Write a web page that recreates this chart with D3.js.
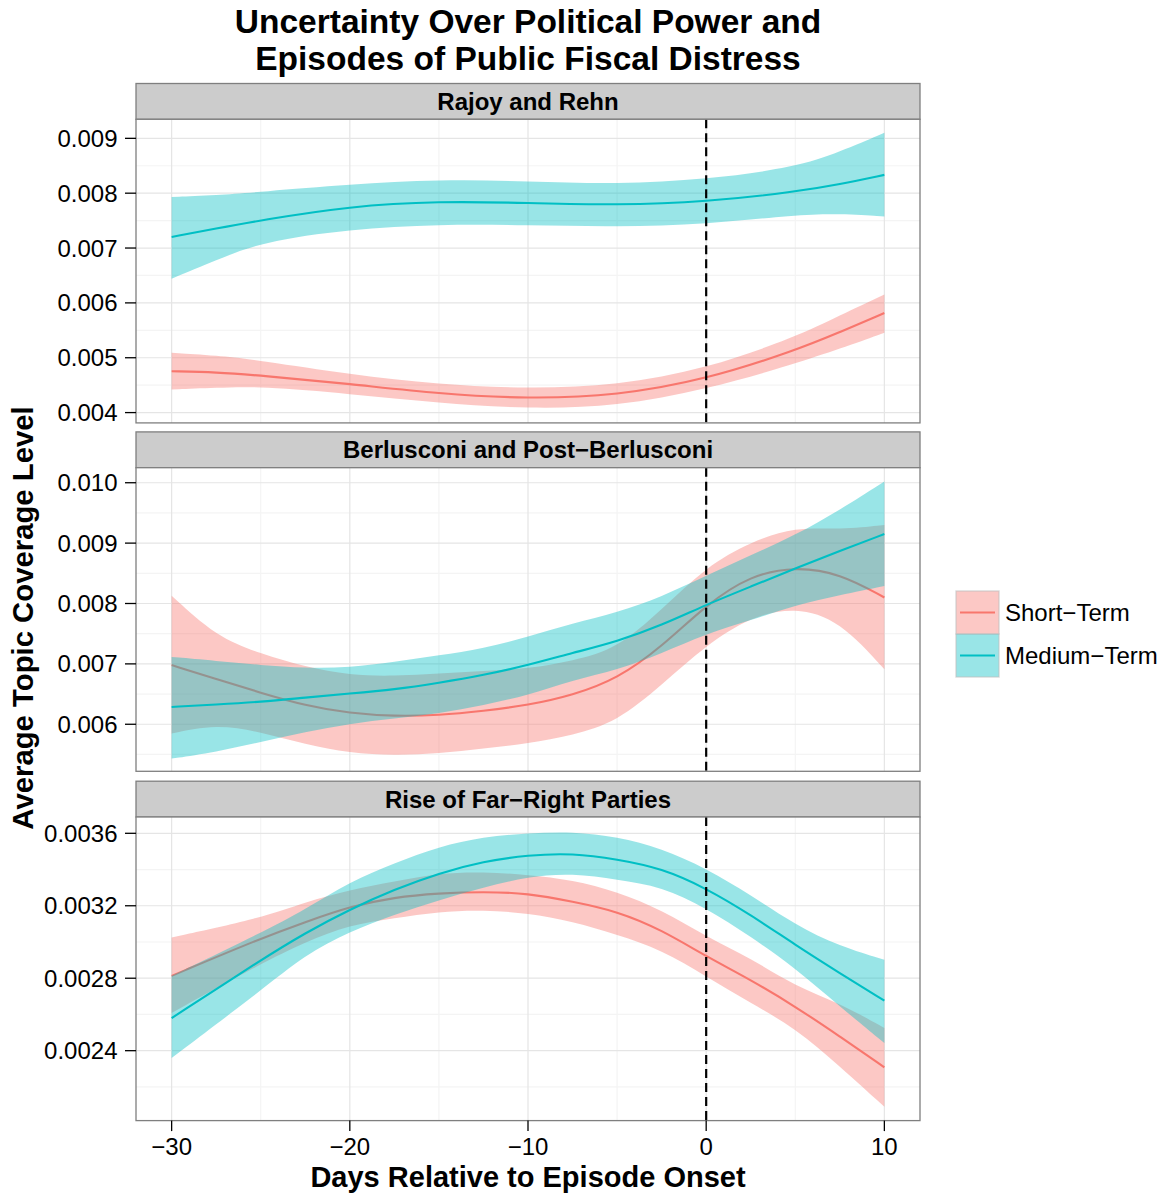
<!DOCTYPE html>
<html>
<head>
<meta charset="utf-8">
<script src="https://cdn.jsdelivr.net/npm/d3@7"></script>
<style>
html,body{margin:0;padding:0;background:#fff;}
svg{display:block;font-family:"Liberation Sans",Arial,Helvetica,sans-serif;}
</style>
</head>
<body>
<svg id="chart" width="1169" height="1197"></svg>
<script>
// ---------------- DATA ----------------
const seriesNames = ["Short\u2212Term", "Medium\u2212Term"];
const facetTitles = ["Rajoy and Rehn", "Berlusconi and Post\u2212Berlusconi", "Rise of Far\u2212Right Parties"];
const xTicks = [-30, -20, -10, 0, 10];
const xTickLabels = ["\u221230", "\u221220", "\u221210", "0", "10"];
const xMinor = [-25, -15, -5, 5];

// Panel 1: Rajoy and Rehn
const days1 = [-30, -27.5, -25, -20, -15, -10, -5, 0, 5, 7.5, 10];
const p1ShortFit = [0.004754, 0.004736, 0.004676, 0.004524, 0.004342, 0.00425, 0.00431, 0.004603, 0.005132, 0.005467, 0.005814];
const p1ShortHi  = [0.00509, 0.005041, 0.00495, 0.004694, 0.004511, 0.004433, 0.004493, 0.004798, 0.005375, 0.005772, 0.006155];
const p1ShortLo  = [0.00442, 0.004451, 0.00448, 0.004342, 0.00417, 0.004068, 0.00411, 0.00442, 0.00489, 0.005163, 0.005456];
const p1MedFit   = [0.007202, 0.007355, 0.007507, 0.007763, 0.007854, 0.007823, 0.00778, 0.007841, 0.008024, 0.008164, 0.008334];
const p1MedHi    = [0.007932, 0.007963, 0.008024, 0.008159, 0.00825, 0.008219, 0.008164, 0.00825, 0.008469, 0.008754, 0.009101];
const p1MedLo    = [0.006442, 0.006776, 0.00711, 0.007342, 0.007434, 0.007416, 0.007384, 0.007434, 0.007604, 0.007629, 0.007574];
const p1Ticks = [0.004, 0.005, 0.006, 0.007, 0.008, 0.009];
const p1TickLabels = ["0.004", "0.005", "0.006", "0.007", "0.008", "0.009"];
const p1Minor = [0.0045, 0.0055, 0.0065, 0.0075, 0.0085];
const p1Domain = [0.003812, 0.009347];

// Panel 2: Berlusconi and Post-Berlusconi
const days2 = [-30, -27.5, -25, -22.5, -20, -17.5, -15, -12.5, -10, -7.5, -5, -2.5, 0, 2.5, 5, 7.5, 10];
const p2ShortFit = [0.00698, 0.00675, 0.00652, 0.00631, 0.00618, 0.006133, 0.006149, 0.00622, 0.006315, 0.00648, 0.00675, 0.00728, 0.00798, 0.00847, 0.00861, 0.0085, 0.0081];
const p2ShortHi  = [0.00813, 0.00745, 0.00717, 0.00695, 0.00681, 0.006796, 0.00684, 0.006884, 0.00692, 0.00705, 0.00725, 0.0079, 0.00861, 0.00902, 0.00927, 0.00922, 0.0093];
const p2ShortLo  = [0.005846, 0.006, 0.005873, 0.005668, 0.005524, 0.005486, 0.005514, 0.005597, 0.00568, 0.005818, 0.00604, 0.00665, 0.00731, 0.00778, 0.007945, 0.00772, 0.00691];
const p2MedFit   = [0.006287, 0.006326, 0.00637, 0.006442, 0.006508, 0.006575, 0.006685, 0.006812, 0.006978, 0.007182, 0.00737, 0.00764, 0.00798, 0.00828, 0.00858, 0.00887, 0.00915];
const p2MedHi    = [0.007116, 0.00705, 0.00698, 0.00693, 0.00694, 0.007033, 0.00714, 0.007254, 0.00745, 0.00767, 0.00785, 0.00811, 0.00846, 0.0088, 0.00913, 0.00955, 0.01002];
const p2MedLo    = [0.005431, 0.005541, 0.005707, 0.00587, 0.006011, 0.006094, 0.006177, 0.006315, 0.006481, 0.00673, 0.0069, 0.00717, 0.0075, 0.00772, 0.00797, 0.00814, 0.00829];
const p2Ticks = [0.006, 0.007, 0.008, 0.009, 0.010];
const p2TickLabels = ["0.006", "0.007", "0.008", "0.009", "0.010"];
const p2Minor = [0.0055, 0.0065, 0.0075, 0.0085, 0.0095];
const p2Domain = [0.005221, 0.010249];

// Panel 3: Rise of Far-Right Parties
const days3 = [-30, -25, -22.5, -20, -17.5, -15, -12.5, -10, -7.5, -5, -2.5, 0, 2.5, 5, 7.5, 10];
const p3ShortFit = [0.002813, 0.00302, 0.00311, 0.003196, 0.003247, 0.003269, 0.003278, 0.003269, 0.003223, 0.00317, 0.003067, 0.00292, 0.002791, 0.002644, 0.002479, 0.002308];
const p3ShortHi  = [0.003025, 0.003131, 0.00322, 0.003288, 0.003333, 0.00338, 0.003388, 0.00337, 0.003343, 0.003278, 0.003177, 0.00303, 0.002911, 0.002755, 0.002663, 0.002525];
const p3ShortLo  = [0.002608, 0.00288, 0.003, 0.003095, 0.003131, 0.003168, 0.003177, 0.003159, 0.003113, 0.00304, 0.002957, 0.00281, 0.002663, 0.002525, 0.002313, 0.00209];
const p3MedFit   = [0.00258, 0.0029, 0.00305, 0.00318, 0.00329, 0.00338, 0.003445, 0.00348, 0.00349, 0.003457, 0.003407, 0.003297, 0.00315, 0.002984, 0.002828, 0.002676];
const p3MedHi    = [0.002813, 0.00305, 0.00318, 0.003333, 0.003435, 0.003526, 0.003581, 0.0036, 0.003609, 0.003581, 0.003517, 0.003407, 0.00326, 0.003095, 0.002975, 0.002902];
const p3MedLo    = [0.00236, 0.00273, 0.00293, 0.003058, 0.00315, 0.003232, 0.0033, 0.003361, 0.00338, 0.003343, 0.003306, 0.003187, 0.00303, 0.002856, 0.002644, 0.002442];
const p3Ticks = [0.0024, 0.0028, 0.0032, 0.0036];
const p3TickLabels = ["0.0024", "0.0028", "0.0032", "0.0036"];
const p3Minor = [0.0022, 0.0026, 0.0030, 0.0034];
const p3Domain = [0.002014, 0.00369];

// ---------------- LAYOUT / STYLE ----------------
const colors = ["#F8766D", "#00BFC4"];
const panelLeft = 136, panelRight = 920;
const panelTops = [119.3, 467.7, 817];
const panelH = 303.6;
const stripH = 35.8;

const panels = [
  {title: facetTitles[0], days: days1, series: [[p1ShortFit, p1ShortLo, p1ShortHi], [p1MedFit, p1MedLo, p1MedHi]], ticks: p1Ticks, labels: p1TickLabels, minor: p1Minor, domain: p1Domain},
  {title: facetTitles[1], days: days2, series: [[p2ShortFit, p2ShortLo, p2ShortHi], [p2MedFit, p2MedLo, p2MedHi]], ticks: p2Ticks, labels: p2TickLabels, minor: p2Minor, domain: p2Domain},
  {title: facetTitles[2], days: days3, series: [[p3ShortFit, p3ShortLo, p3ShortHi], [p3MedFit, p3MedLo, p3MedHi]], ticks: p3Ticks, labels: p3TickLabels, minor: p3Minor, domain: p3Domain}
];

const svg = d3.select("#chart");
svg.append("rect").attr("width", 1169).attr("height", 1197).attr("fill", "#fff");

const x = d3.scaleLinear().domain([-32, 12]).range([panelLeft, panelRight]);
const curve = d3.curveBasis;

panels.forEach((p, i) => {
  const top = panelTops[i];
  const bottom = top + panelH;
  const y = d3.scaleLinear().domain(p.domain).range([bottom, top]);
  const g = svg.append("g");

  // strip
  g.append("rect").attr("x", panelLeft).attr("y", top - stripH).attr("width", panelRight - panelLeft).attr("height", stripH)
    .attr("fill", "#CCCCCC").attr("stroke", "#7F7F7F").attr("stroke-width", 1.3);
  g.append("text").attr("x", (panelLeft + panelRight) / 2).attr("y", top - stripH / 2 + 8.6)
    .attr("text-anchor", "middle").attr("font-size", 24).attr("font-weight", "bold").attr("fill", "#000").text(p.title);

  // panel bg
  g.append("rect").attr("x", panelLeft).attr("y", top).attr("width", panelRight - panelLeft).attr("height", panelH).attr("fill", "#fff");

  // minor grid
  g.selectAll(".mny").data(p.minor).join("line")
    .attr("x1", panelLeft).attr("x2", panelRight).attr("y1", d => y(d)).attr("y2", d => y(d))
    .attr("stroke", "#F4F4F4").attr("stroke-width", 1.2);
  g.selectAll(".mnx").data(xMinor).join("line")
    .attr("y1", top).attr("y2", bottom).attr("x1", d => x(d)).attr("x2", d => x(d))
    .attr("stroke", "#F4F4F4").attr("stroke-width", 1.2);
  // major grid
  g.selectAll(".mjy").data(p.ticks).join("line")
    .attr("x1", panelLeft).attr("x2", panelRight).attr("y1", d => y(d)).attr("y2", d => y(d))
    .attr("stroke", "#E5E5E5").attr("stroke-width", 1.2);
  g.selectAll(".mjx").data(xTicks).join("line")
    .attr("y1", top).attr("y2", bottom).attr("x1", d => x(d)).attr("x2", d => x(d))
    .attr("stroke", "#E5E5E5").attr("stroke-width", 1.2);

  // smooths: ribbon then line per group
  p.series.forEach((s, k) => {
    const [fit, lo, hi] = s;
    const pts = p.days.map((d, j) => ({d, fit: fit[j], lo: lo[j], hi: hi[j]}));
    const area = d3.area().x(q => x(q.d)).y0(q => y(q.lo)).y1(q => y(q.hi)).curve(curve);
    const line = d3.line().x(q => x(q.d)).y(q => y(q.fit)).curve(curve);
    g.append("path").attr("d", area(pts)).attr("fill", colors[k]).attr("fill-opacity", 0.4).attr("stroke", "none");
    g.append("path").attr("d", line(pts)).attr("fill", "none").attr("stroke", colors[k]).attr("stroke-width", 2.1);
  });

  // vertical dashed line at 0
  g.append("line").attr("x1", x(0)).attr("x2", x(0)).attr("y1", top).attr("y2", bottom)
    .attr("stroke", "#000").attr("stroke-width", 2.2).attr("stroke-dasharray", "9,5");

  // border
  g.append("rect").attr("x", panelLeft).attr("y", top).attr("width", panelRight - panelLeft).attr("height", panelH)
    .attr("fill", "none").attr("stroke", "#7F7F7F").attr("stroke-width", 1.3);

  // y axis ticks & labels
  p.ticks.forEach((t, j) => {
    g.append("line").attr("x1", panelLeft - 11).attr("x2", panelLeft).attr("y1", y(t)).attr("y2", y(t))
      .attr("stroke", "#000").attr("stroke-width", 1.3);
    g.append("text").attr("x", panelLeft - 18.5).attr("y", y(t) + 8.6).attr("text-anchor", "end")
      .attr("font-size", 24).attr("fill", "#000").text(p.labels[j]);
  });

  // x axis on last panel
  if (i === panels.length - 1) {
    xTicks.forEach((t, j) => {
      g.append("line").attr("x1", x(t)).attr("x2", x(t)).attr("y1", bottom).attr("y2", bottom + 10.5)
        .attr("stroke", "#000").attr("stroke-width", 1.3);
      g.append("text").attr("x", x(t)).attr("y", bottom + 34).attr("text-anchor", "middle")
        .attr("font-size", 24).attr("fill", "#000").text(xTickLabels[j]);
    });
  }
});

// Titles
svg.append("text").attr("x", 528).attr("y", 32.5).attr("text-anchor", "middle").attr("font-size", 33.5)
  .attr("font-weight", "bold").text("Uncertainty Over Political Power and");
svg.append("text").attr("x", 528).attr("y", 70).attr("text-anchor", "middle").attr("font-size", 33.5)
  .attr("font-weight", "bold").text("Episodes of Public Fiscal Distress");

svg.append("text").attr("x", 528).attr("y", 1187).attr("text-anchor", "middle").attr("font-size", 29)
  .attr("font-weight", "bold").text("Days Relative to Episode Onset");

svg.append("text").attr("transform", "translate(33,618) rotate(-90)").attr("text-anchor", "middle")
  .attr("font-size", 29.3).attr("font-weight", "bold").text("Average Topic Coverage Level");

// Legend
const legY = [591, 634];
seriesNames.forEach((n, k) => {
  const lg = svg.append("g");
  lg.append("rect").attr("x", 956).attr("y", legY[k]).attr("width", 43).attr("height", 43)
    .attr("fill", colors[k]).attr("fill-opacity", 0.4).attr("stroke", "#BFBFBF").attr("stroke-opacity", 0.6).attr("stroke-width", 1.4);
  lg.append("line").attr("x1", 960).attr("x2", 995).attr("y1", legY[k] + 21.5).attr("y2", legY[k] + 21.5)
    .attr("stroke", colors[k]).attr("stroke-width", 2.1);
  lg.append("text").attr("x", 1005).attr("y", legY[k] + 30).attr("font-size", 24).attr("fill", "#000").text(n);
});
</script>
</body>
</html>
